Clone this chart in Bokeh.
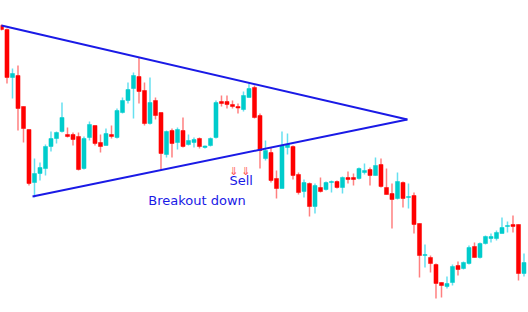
from bokeh.plotting import figure
from bokeh.models import ColumnDataSource, Range1d
from bokeh.core.properties import value
from bokeh.embed import file_html
from bokeh.resources import INLINE

# candle data (arbitrary price units)
opens = [287, 283, 235, 237, 206, 183, 130, 139, 144, 166, 174, 181, 178, 178, 176, 144, 175, 187, 170, 167,
         178, 175, 200, 212, 224, 236, 222, 189, 212, 200, 158, 182, 170, 182, 168, 170, 174, 165, 167, 175,
         211, 211, 208, 206, 203, 215, 225, 197, 154, 160, 134, 124, 165, 166, 138, 121, 129, 106, 125, 123,
         130, 131, 125, 135, 135, 134, 140, 143, 137, 148, 125, 119, 114, 130, 115, 117, 89, 57, 55, 48,
         30, 26, 30, 47, 44, 49, 66, 55, 69, 74, 74, 79, 86, 88, 88, 39]
closes = [283, 235, 239, 204, 184, 129, 139, 145, 166, 174, 180, 195, 176, 173, 143, 174, 188, 169, 166, 179,
          176, 202, 212, 223, 237, 221, 189, 210, 197, 159, 181, 169, 183, 166, 172, 173, 166, 166.5, 174, 210,
          209, 208, 206, 204.5, 217, 224, 195, 162, 162, 132, 124, 167, 168, 137, 120, 130, 106, 127, 121, 130,
          131, 125, 135, 133, 133, 144, 142, 137, 147, 126, 118, 113, 131, 114, 116, 88, 57, 58, 49, 29,
          27, 29, 46, 43, 50, 65, 55, 69, 76, 76, 80, 85, 87, 86, 39, 50]
highs = [288, 284, 244, 247, 206, 183, 154, 150, 168, 181, 181, 210, 185, 180, 180, 176, 191, 187, 178, 184,
         187, 204, 215, 230, 240, 255, 230, 235, 215, 200, 182, 184, 185, 195, 178, 175, 175, 167, 175, 212,
         217, 217, 212, 209, 221, 229, 227, 199, 172, 165, 142, 181, 179, 167, 140, 133, 130, 129, 135, 131,
         132, 132, 136, 141, 139, 145, 149, 145, 155, 154, 144, 129, 140, 131, 129, 120, 89, 68, 57, 49,
         30, 36, 48, 51, 51, 67, 70, 70, 77, 79, 82, 95, 91, 97, 88, 59]
lows = [282, 229, 214, 182, 170, 127, 115, 132, 137, 161, 169, 180, 175, 167, 142, 143, 172, 167, 160, 167,
        174, 174, 199, 209, 194, 209, 187, 188, 193, 142, 155, 155, 163, 165, 167, 165, 164, 164, 166, 174,
        206, 204, 204, 199, 201, 215, 194, 144, 152, 130, 114, 124, 158, 133, 118, 115, 96, 99, 120, 122,
        120, 124, 119, 129, 127, 133, 138, 127, 137, 125, 118, 84, 113, 105, 104, 79, 35, 45, 40, 14,
        15, 24, 27, 37, 43, 48, 55, 54, 68, 70, 72, 79, 80, 80, 32, 36]

# triangle trend lines (bar index, price)
upper_x = [0.0, 73.8]
upper_y = [287, 193]
lower_x = [5.64, 73.8]
lower_y = [116, 193]

# sell signal arrows (bar index, price)
signal_x = [42.25, 44.45]
signal_y = [141, 141]

n = len(opens)
idx = list(range(n))
bull = [c >= o for o, c in zip(opens, closes)]
body_col = ["#00CCCC" if b else "#FF0000" for b in bull]
wick_col = ["#66E0F0" if b else "#FF8080" for b in bull]
tops = [max(o, c) for o, c in zip(opens, closes)]
bots = [min(o, c) for o, c in zip(opens, closes)]
tops = [t if t - b >= 1 else b + 1 for t, b in zip(tops, bots)]

src = ColumnDataSource(dict(x=idx, high=highs, low=lows, top=tops, bottom=bots,
                            bc=body_col, wc=wick_col))

p = figure(width=528, height=312, output_backend="svg", toolbar_location=None,
           x_range=Range1d(-0.18, 95.82), y_range=Range1d(0, 312),
           x_axis_location=None, y_axis_location=None, min_border=0)
p.grid.visible = False
p.outline_line_color = None
p.background_fill_color = "white"

p.segment(x0="x", y0="low", x1="x", y1="high", source=src, line_color="wc", line_width=1.5)
p.vbar(x="x", width=0.74, top="top", bottom="bottom", source=src,
       fill_color="bc", line_color="bc", line_width=0.5)

p.line(upper_x, upper_y, line_color="#1A1AE6", line_width=2)
p.line(lower_x, lower_y, line_color="#1A1AE6", line_width=2)

p.text(x=signal_x, y=signal_y, text=["\u21d3", "\u21d3"], text_color="#FF5050",
       text_font=value("DejaVu Sans"), text_font_size="11px",
       text_align="center", text_baseline="alphabetic")

p.text(x=[41.45], y=[132], text=["Sell"], text_color="#1A1AE6",
       text_font=value("DejaVu Sans"), text_font_size="13px",
       text_align="left", text_baseline="alphabetic")
p.text(x=[26.7], y=[112], text=["Breakout down"], text_color="#1A1AE6",
       text_font=value("DejaVu Sans"), text_font_size="13px",
       text_align="left", text_baseline="alphabetic")

open("out.html", "w").write(file_html(p, INLINE))
